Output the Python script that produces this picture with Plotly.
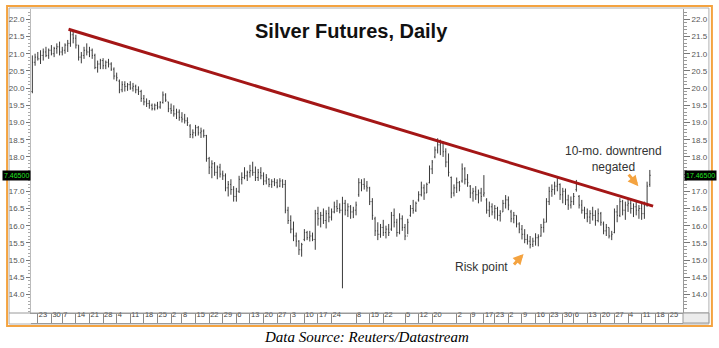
import plotly.graph_objects as go

# ---------------- data ----------------
highs = [
    20.95, 21.00, 21.05, 21.10, 21.15, 21.20, 21.15, 21.25, 21.20, 21.30,
    21.35, 21.20, 21.30, 21.40, 21.68, 21.65, 21.55, 21.25, 21.05, 21.20,
    21.30, 21.20, 21.15, 21.00, 20.80, 20.85, 20.87, 20.80, 20.85, 20.75,
    20.60, 20.45, 20.25, 20.20, 20.20, 20.15, 20.20, 20.15, 20.10, 20.05,
    19.95, 19.80, 19.70, 19.65, 19.55, 19.55, 19.60, 19.62, 19.90, 19.85,
    19.60, 19.55, 19.50, 19.40, 19.38, 19.30, 19.25, 19.15, 18.95, 18.80,
    18.93, 18.90, 18.85, 18.80, 18.64, 18.00, 17.90, 17.85, 17.75, 17.80,
    17.60, 17.52, 17.30, 17.35, 17.15, 17.10, 17.45, 17.55, 17.70, 17.60,
    17.77, 17.86, 17.72, 17.65, 17.70, 17.55, 17.50, 17.38, 17.35, 17.38,
    17.35, 17.38, 17.35, 17.33, 16.55, 16.30, 16.12, 15.80, 15.58, 15.50,
    15.90, 15.85, 15.85, 15.80, 16.46, 16.55, 16.40, 16.50, 16.45, 16.55,
    16.50, 16.70, 16.75, 16.65, 16.84, 16.75, 16.65, 16.60, 16.55, 16.70,
    17.38, 17.35, 17.38, 17.30, 17.13, 16.80, 16.26, 16.10, 16.05, 16.17,
    16.00, 16.05, 16.40, 16.50, 16.20, 16.36, 16.30, 16.05, 16.20, 16.60,
    16.75, 16.70, 17.00, 17.28, 17.20, 17.25, 17.75, 17.91, 18.30, 18.54,
    18.50, 18.45, 18.25, 18.10, 17.43, 17.20, 17.40, 17.30, 17.81, 17.70,
    17.50, 17.18, 17.10, 17.15, 17.05, 17.10, 17.47, 16.80, 16.70, 16.65,
    16.60, 16.55, 16.45, 16.75, 16.89, 16.85, 16.46, 16.40, 16.30, 16.10,
    16.02, 15.90, 15.75, 15.70, 15.65, 15.78, 15.75, 16.05, 16.21, 16.80,
    17.13, 17.20, 17.28, 17.42, 17.23, 17.10, 17.08, 16.90, 16.85, 16.95,
    17.33, 16.89, 16.75, 16.55, 16.50, 16.45, 16.55, 16.45, 16.50, 16.40,
    16.12, 16.05, 15.95, 15.85, 16.50, 16.60, 16.80, 16.75, 16.70, 16.80,
    16.75, 16.65, 16.70, 16.60, 16.65, 16.70, 17.28, 17.62,
]
lows = [
    19.85, 20.65, 20.80, 20.70, 20.80, 20.90, 20.85, 20.95, 20.90, 21.00,
    20.95, 20.95, 21.00, 21.05, 21.20, 21.30, 21.15, 20.80, 20.72, 20.85,
    20.95, 20.90, 20.85, 20.55, 20.45, 20.55, 20.55, 20.55, 20.60, 20.50,
    20.25, 20.20, 19.85, 19.88, 19.90, 19.92, 19.95, 19.90, 19.85, 19.80,
    19.60, 19.50, 19.45, 19.40, 19.35, 19.35, 19.38, 19.40, 19.55, 19.60,
    19.30, 19.25, 19.17, 19.10, 19.05, 19.00, 18.97, 18.90, 18.55, 18.54,
    18.60, 18.62, 18.55, 18.56, 17.86, 17.50, 17.38, 17.45, 17.35, 17.40,
    17.33, 17.00, 16.85, 16.90, 16.70, 16.70, 16.95, 17.20, 17.35, 17.30,
    17.40, 17.45, 17.30, 17.30, 17.35, 17.18, 17.20, 17.12, 17.10, 17.15,
    17.09, 17.12, 17.10, 16.36, 16.05, 15.78, 15.55, 15.39, 15.15, 15.10,
    15.55, 15.58, 15.54, 15.55, 15.30, 16.00, 15.95, 16.05, 15.92, 16.10,
    16.15, 16.36, 16.40, 16.36, 14.18, 16.30, 16.25, 16.20, 16.22, 16.30,
    16.84, 17.00, 17.05, 16.99, 16.60, 16.17, 15.70, 15.58, 15.65, 15.70,
    15.63, 15.70, 15.85, 15.95, 15.68, 15.75, 15.85, 15.58, 15.75, 16.26,
    16.35, 16.40, 16.70, 16.85, 16.75, 16.95, 17.23, 17.50, 17.96, 18.10,
    18.05, 18.00, 17.70, 17.43, 16.80, 16.85, 16.95, 17.00, 17.25, 17.20,
    17.13, 16.80, 16.70, 16.75, 16.65, 16.70, 16.84, 16.35, 16.25, 16.30,
    16.20, 16.15, 16.12, 16.40, 16.50, 16.45, 16.10, 16.07, 15.95, 15.78,
    15.60, 15.49, 15.45, 15.34, 15.38, 15.42, 15.40, 15.68, 15.80, 16.10,
    16.60, 16.84, 16.90, 17.00, 16.75, 16.65, 16.60, 16.46, 16.50, 16.60,
    16.99, 16.50, 16.35, 16.20, 16.10, 16.05, 16.15, 16.00, 16.10, 16.00,
    15.75, 15.70, 15.63, 15.58, 15.78, 16.10, 16.25, 16.30, 16.17, 16.40,
    16.35, 16.25, 16.30, 16.20, 16.17, 16.20, 16.55, 17.13,
]
opens = [
    19.90, 20.75, 20.90, 20.85, 20.95, 21.05, 20.95, 21.10, 21.00, 21.15,
    21.20, 21.05, 21.10, 21.25, 21.30, 21.55, 21.45, 21.25, 20.90, 20.95,
    21.10, 21.05, 21.10, 20.95, 20.60, 20.70, 20.80, 20.65, 20.75, 20.70,
    20.55, 20.35, 20.20, 19.95, 20.10, 20.05, 20.10, 20.00, 20.05, 19.95,
    19.90, 19.70, 19.60, 19.55, 19.50, 19.40, 19.50, 19.45, 19.58, 19.80,
    19.60, 19.40, 19.35, 19.25, 19.30, 19.15, 19.10, 19.05, 18.90, 18.65,
    18.70, 18.85, 18.70, 18.75, 18.62, 17.95, 17.70, 17.80, 17.55, 17.70,
    17.50, 17.45, 17.10, 17.20, 17.05, 16.85, 17.00, 17.35, 17.40, 17.45,
    17.55, 17.60, 17.55, 17.40, 17.55, 17.45, 17.30, 17.35, 17.20, 17.28,
    17.25, 17.15, 17.30, 17.20, 16.45, 16.15, 15.90, 15.70, 15.55, 15.30,
    15.60, 15.80, 15.65, 15.70, 15.60, 16.35, 16.20, 16.30, 16.15, 16.35,
    16.25, 16.40, 16.55, 16.50, 16.45, 16.65, 16.45, 16.55, 16.40, 16.45,
    16.90, 17.25, 17.20, 17.15, 17.10, 16.70, 16.20, 15.85, 15.75, 15.95,
    15.80, 15.90, 15.90, 16.30, 16.10, 15.80, 16.20, 15.95, 15.70, 16.30,
    16.50, 16.45, 16.75, 16.90, 17.10, 16.95, 17.25, 17.65, 18.00, 18.20,
    18.35, 18.40, 18.15, 17.85, 17.40, 16.95, 17.10, 17.25, 17.30, 17.65,
    17.35, 17.15, 16.95, 17.00, 16.90, 16.95, 16.90, 16.75, 16.45, 16.55,
    16.40, 16.50, 16.30, 16.40, 16.65, 16.75, 16.40, 16.20, 16.30, 16.05,
    15.90, 15.75, 15.60, 15.55, 15.45, 15.55, 15.65, 15.70, 15.95, 16.10,
    16.70, 17.00, 17.05, 17.15, 17.20, 16.90, 17.00, 16.75, 16.60, 16.70,
    17.05, 16.85, 16.60, 16.45, 16.35, 16.25, 16.35, 16.30, 16.15, 16.35,
    16.05, 15.85, 15.95, 15.70, 15.80, 16.40, 16.30, 16.70, 16.45, 16.60,
    16.65, 16.50, 16.55, 16.45, 16.50, 16.35, 16.60, 17.20,
]
closes = [
    20.75, 20.90, 20.85, 20.95, 21.05, 20.95, 21.10, 21.00, 21.15, 21.20,
    21.05, 21.10, 21.25, 21.30, 21.55, 21.45, 21.25, 20.90, 20.95, 21.10,
    21.05, 21.10, 20.95, 20.60, 20.70, 20.80, 20.65, 20.75, 20.70, 20.55,
    20.35, 20.30, 19.95, 20.10, 20.05, 20.10, 20.00, 20.05, 19.95, 19.90,
    19.70, 19.60, 19.55, 19.50, 19.40, 19.50, 19.45, 19.58, 19.80, 19.65,
    19.40, 19.35, 19.25, 19.30, 19.15, 19.10, 19.05, 19.00, 18.65, 18.70,
    18.85, 18.70, 18.75, 18.62, 17.95, 17.70, 17.80, 17.55, 17.70, 17.50,
    17.45, 17.10, 17.20, 17.05, 16.85, 17.00, 17.35, 17.40, 17.45, 17.55,
    17.60, 17.55, 17.40, 17.55, 17.45, 17.30, 17.40, 17.20, 17.28, 17.25,
    17.15, 17.30, 17.20, 16.45, 16.15, 15.90, 15.70, 15.55, 15.30, 15.45,
    15.80, 15.65, 15.70, 15.60, 16.35, 16.20, 16.30, 16.15, 16.35, 16.25,
    16.40, 16.55, 16.50, 16.45, 16.65, 16.45, 16.55, 16.40, 16.45, 16.60,
    17.25, 17.20, 17.15, 17.10, 16.70, 16.30, 15.85, 15.75, 15.95, 15.80,
    15.90, 15.80, 16.30, 16.10, 15.80, 16.20, 15.95, 15.70, 16.10, 16.50,
    16.45, 16.65, 16.90, 17.10, 16.95, 17.20, 17.65, 17.85, 18.20, 18.35,
    18.40, 18.15, 17.85, 17.55, 16.95, 17.10, 17.25, 17.15, 17.65, 17.35,
    17.25, 16.95, 17.00, 16.90, 16.95, 16.85, 16.95, 16.45, 16.55, 16.40,
    16.50, 16.30, 16.35, 16.65, 16.75, 16.60, 16.20, 16.30, 16.05, 15.90,
    15.75, 15.60, 15.55, 15.45, 15.55, 15.65, 15.68, 15.95, 16.10, 16.70,
    17.00, 17.05, 17.15, 17.20, 16.90, 17.00, 16.75, 16.60, 16.70, 16.85,
    17.20, 16.60, 16.45, 16.35, 16.25, 16.35, 16.30, 16.15, 16.35, 16.10,
    15.85, 15.95, 15.70, 15.75, 16.40, 16.30, 16.70, 16.45, 16.60, 16.65,
    16.50, 16.55, 16.45, 16.50, 16.35, 16.60, 17.15, 17.465,
]
bar_idx = list(range(len(closes)))   # trading-day index

# week-start trading-day positions and their date labels
week_ticks = [2, 7, 11, 16, 21, 26, 31, 36, 41, 46, 51, 55, 60, 65, 70, 75, 80, 85,
              90, 95, 100, 105, 110, 119, 124, 129, 137, 142, 147, 156, 161, 166,
              170, 175, 180, 185, 190, 195, 199, 204, 209, 214, 219, 224, 229, 234]
week_labels = ["23", "30", "7", "14", "21", "28", "4", "11", "18", "25", "2", "8",
               "15", "22", "29", "6", "13", "20", "27", "3", "10", "17", "24", "8",
               "15", "22", "5", "12", "20", "2", "9", "17", "23", "2", "9", "16",
               "23", "30", "6", "13", "20", "27", "4", "11", "18", "25"]

price_ticks = [14.0, 14.5, 15.0, 15.5, 16.0, 16.5, 17.0, 17.5, 18.0, 18.5,
               19.0, 19.5, 20.0, 20.5, 21.0, 21.5, 22.0]
# 17.5 is hidden behind the last-price tag in the reference
price_labels = ["14.0", "14.5", "15.0", "15.5", "16.0", "16.5", "17.0", "", "18.0", "18.5",
                "19.0", "19.5", "20.0", "20.5", "21.0", "21.5", "22.0"]

trend_x = [13.3, 228.2]
trend_y = [21.71, 16.57]

last_price = 17.465
last_price_text = "17.46500"

# ---------------- layout geometry ----------------
W, H = 719, 348
ML, MR, MT, MB = 29, 36, 9, 25
PW, PH = W - ML - MR, H - MT - MB


def px(x):
    return (x - ML) / PW


def py(y):
    return (H - MB - y) / PH


AX_FONT = dict(family="Liberation Sans, Arial", size=8, color="#555555")
ORANGE = "#F4A340"

fig = go.Figure()

fig.add_trace(go.Ohlc(
    x=bar_idx, open=opens, high=highs, low=lows, close=closes,
    increasing=dict(line=dict(color="#3a3a3a", width=1)),
    decreasing=dict(line=dict(color="#3a3a3a", width=1)),
    tickwidth=0.3, showlegend=False, hoverinfo="skip",
))

fig.add_trace(go.Scatter(
    x=trend_x, y=trend_y, mode="lines",
    line=dict(color="#A41616", width=3), showlegend=False, hoverinfo="skip",
))

# invisible trace carrying the secondary (date-band / right price) axes
fig.add_trace(go.Scatter(
    x=[bar_idx[0]], y=[closes[0]], xaxis="x2", yaxis="y2", mode="markers",
    marker=dict(opacity=0), showlegend=False, hoverinfo="skip",
))

x_range = [-0.5, 239.2]
y_range = [13.462, 22.299]
y_dom = [10 / PH, 1]

fig.update_layout(
    width=W, height=H,
    margin=dict(l=ML, r=MR, t=MT, b=MB, pad=0),
    paper_bgcolor="white", plot_bgcolor="white",
    font=dict(family="Liberation Sans, Arial", color="#333333"),
    xaxis=dict(
        domain=[0, 1], range=x_range, rangeslider=dict(visible=False),
        showgrid=False, zeroline=False, showticklabels=False, ticks="",
        showline=True, linecolor="#9a9a9a", linewidth=1, mirror=False,
    ),
    xaxis2=dict(
        overlaying="x", matches="x", anchor="free", position=0, side="bottom",
        range=x_range, showgrid=False, zeroline=False,
        tickmode="array", tickvals=week_ticks, ticktext=week_labels,
        tickangle=0, ticks="inside", ticklen=10, tickcolor="#8a8a8a", tickwidth=1,
        ticklabelposition="inside right",
        tickfont=dict(family="Liberation Sans, Arial", size=7.5, color="#444444"),
        showline=True, linecolor="#9a9a9a", linewidth=1,
    ),
    yaxis=dict(
        domain=y_dom, range=y_range, side="left",
        showgrid=False, zeroline=False,
        tickmode="array", tickvals=price_ticks, ticktext=price_labels,
        ticks="outside", ticklen=4, tickcolor="#777777",
        tickfont=AX_FONT,
        minor=dict(dtick=0.1, ticks="outside", ticklen=2, tickcolor="#aaaaaa"),
        showline=True, linecolor="#bbbbbb", linewidth=1,
    ),
    yaxis2=dict(
        overlaying="y", anchor="x", side="right", domain=y_dom, range=y_range,
        showgrid=False, zeroline=False,
        tickmode="array", tickvals=price_ticks, ticktext=price_labels,
        ticks="outside", ticklen=6, tickcolor="#777777",
        tickfont=AX_FONT,
        minor=dict(dtick=0.1, ticks="outside", ticklen=3, tickcolor="#999999"),
        showline=True, linecolor="#9a9a9a", linewidth=1,
    ),
)

shapes = [
    # chart frame
    dict(type="rect", xref="paper", yref="paper", x0=px(7), x1=px(709), y0=py(324), y1=py(8),
         line=dict(color="#b0b0b0", width=1), layer="below"),
    # date band
    dict(type="line", xref="paper", yref="paper", x0=px(7), x1=px(709), y0=py(313), y1=py(313),
         line=dict(color="#9a9a9a", width=1)),
    dict(type="rect", xref="paper", yref="paper", x0=px(683), x1=px(709), y0=py(323), y1=py(313),
         line=dict(color="#9a9a9a", width=1), fillcolor="#ececec"),
    # orange border
    dict(type="rect", xref="paper", yref="paper", x0=px(5), x1=px(712), y0=py(326), y1=py(6),
         line=dict(color=ORANGE, width=2)),
]
fig.update_layout(shapes=shapes)

ann = [
    dict(text="<b>Silver Futures, Daily</b>", xref="paper", yref="paper",
         x=px(350), y=py(31), xanchor="center", yanchor="middle", showarrow=False,
         font=dict(family="Liberation Sans, Arial", size=20, color="#111111")),
    dict(text="<i>Data Source: Reuters/Datastream</i>", xref="paper", yref="paper",
         x=px(366), y=py(337), xanchor="center", yanchor="middle", showarrow=False,
         font=dict(family="Liberation Serif, Times New Roman", size=15, color="#000000")),
    dict(text="10-mo. downtrend<br>negated", xref="x", yref="y",
         x=213.5, y=17.93, xanchor="center", yanchor="middle", showarrow=False,
         font=dict(family="Liberation Sans, Arial", size=12, color="#333333")),
    dict(text="Risk point", xref="x", yref="y",
         x=165.2, y=14.80, xanchor="center", yanchor="middle", showarrow=False,
         font=dict(family="Liberation Sans, Arial", size=12, color="#333333")),
    # orange arrows
    dict(text="", xref="x", yref="y", x=222.8, y=17.15, ax=-11, ay=-13,
         showarrow=True, arrowhead=2, arrowsize=0.7, arrowwidth=3, arrowcolor=ORANGE),
    dict(text="", xref="x", yref="y", x=180.6, y=15.18, ax=-11, ay=12,
         showarrow=True, arrowhead=2, arrowsize=0.7, arrowwidth=3, arrowcolor=ORANGE),
    # last-price tags
    dict(text=last_price_text, xref="paper", yref="y", x=px(684), y=last_price,
         xanchor="left", yanchor="middle", showarrow=False, bgcolor="#000000",
         borderpad=1, font=dict(family="Liberation Sans, Arial", size=7, color="#22e022")),
    dict(text=last_price_text[1:], xref="paper", yref="y", x=px(29.5), y=last_price,
         xanchor="right", yanchor="middle", showarrow=False, bgcolor="#000000",
         borderpad=1, font=dict(family="Liberation Sans, Arial", size=7, color="#22e022")),
]
fig.update_layout(annotations=ann)

fig.write_html("out.html")
